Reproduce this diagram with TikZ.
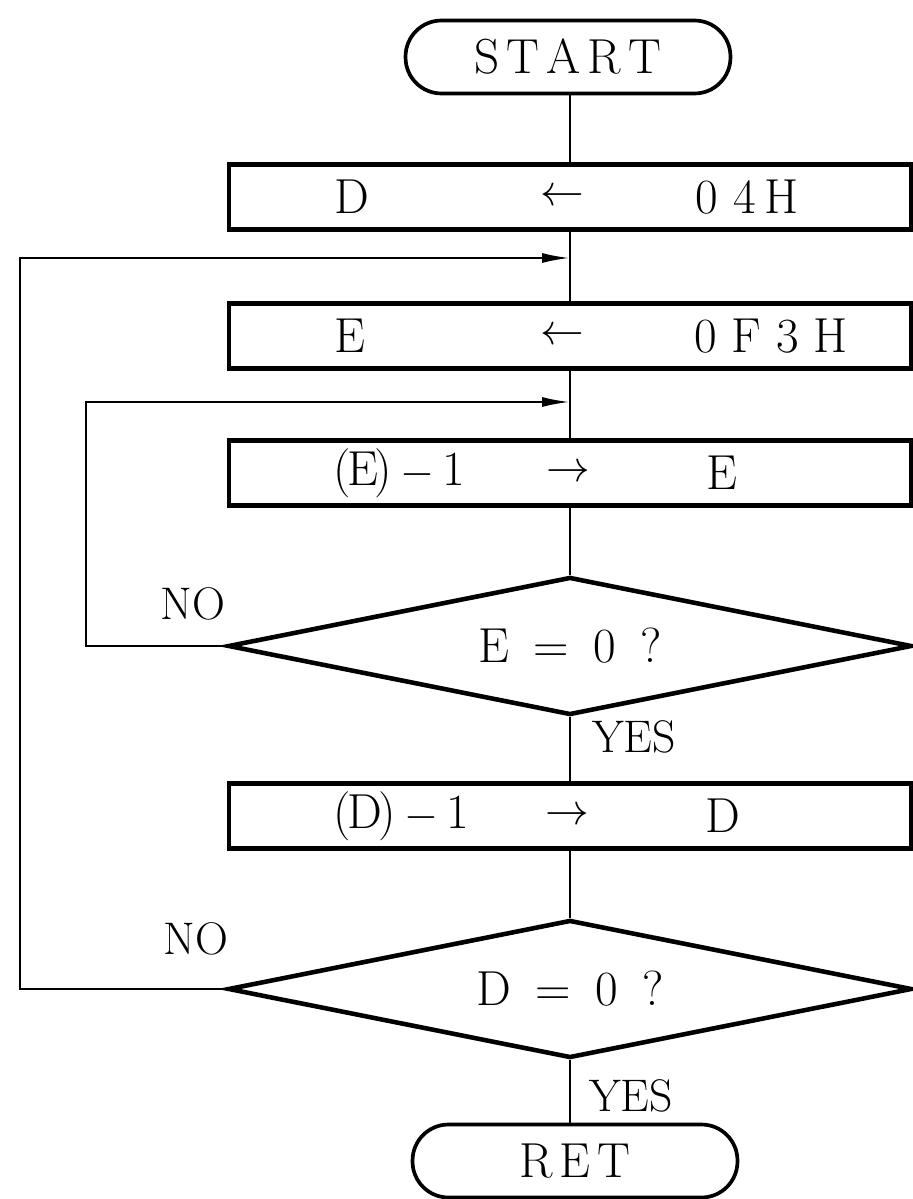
\documentclass[tikz,border=0pt]{standalone}
\usepackage{tikz}
\usetikzlibrary{shapes.geometric, arrows.meta, positioning}
\tikzset{
	proc/.style ={rectangle, draw=black, line width=2.3pt, minimum width=13.64cm, minimum height=1.3cm, inner sep=0pt},
	decis/.style={diamond, draw=black, line width=2.6pt, minimum width=13.68cm, minimum height=2.76cm, inner sep=0pt, aspect=5},
	term/.style ={rectangle, rounded corners=0.72cm, draw=black, line width=2.1pt, minimum width=6.5cm, minimum height=1.46cm, inner sep=0pt},
	txt/.style  ={inner sep=0pt, font=\fontsize{28}{30}\selectfont},
	lbl/.style  ={inner sep=0pt, font=\fontsize{26}{28}\selectfont},
	conn/.style ={line width=1.3pt},
	flow/.style ={line width=1.3pt, -{Latex[length=5.6mm, width=2mm]}},
}
\begin{document}
\begin{tikzpicture}[x=0.02cm, y=-0.02cm]
	\useasboundingbox (0,0) rectangle (912,1199);
	% main column
	\node[term] (st) at (568,57) {\fontsize{28}{30}\selectfont S\kern4pt T\kern4pt A\kern4pt R\kern4pt T};
	\node[proc] (b1) at (570,197) {};
	\node[proc] (b2) at (570,336) {};
	\node[proc] (b3) at (570,473) {};
	\node[decis] (d1) at (570,646) {};
	\node[proc] (b4) at (570,816) {};
	\node[decis] (d2) at (570,989) {};
	\node[term] (ret) at (575,1161) {\fontsize{28}{30}\selectfont R\kern4pt E\kern4pt T};
	% box contents
	\node[txt] (b1a) at (352,197) {D};
	\node[txt] (b1b) at (562,197) {$\leftarrow$};
	\node[txt] (b1c) at (747,197) {0~4\,H};
	\node[txt] (b2a) at (350,336) {E};
	\node[txt] (b2b) at (562,336) {$\leftarrow$};
	\node[txt] (b2c) at (771,336) {0 F 3 H};
	\node[txt] (b3a) at (399,473) {(\kern-2pt E\kern-2pt)\,$-$\,1};
	\node[txt] (b3b) at (568,473) {$\rightarrow$};
	\node[txt] (b3c) at (722,473) {E};
	\node[txt] (d1a) at (570,646) {E\enspace=\enspace0\enspace?};
	\node[txt] (b4a) at (401,816) {(\kern-2pt D\kern-2pt)\,$-$\,1};
	\node[txt] (b4b) at (567,816) {$\rightarrow$};
	\node[txt] (b4c) at (723,816) {D};
	\node[txt] (d2a) at (570,989) {D\enspace=\enspace0\enspace?};
	% branch labels
	\node[lbl] (no1) at (193,604) {NO};
	\node[lbl] (yes1) at (634,737) {YES};
	\node[lbl] (no2) at (196,939) {NO};
	\node[lbl] (yes2) at (631,1096) {YES};
	% joints on the column
	\coordinate (j1) at (570,258);
	\coordinate (j2) at (570,402);
	\draw[conn] (st.south -| b1.north) -- (b1.north);
	\draw[conn] (b1.south) -- (b2.north);
	\draw[conn] (b2.south) -- (b3.north);
	\draw[conn] (b3.south) -- (d1.north);
	\draw[conn] (d1.south) -- (b4.north);
	\draw[conn] (b4.south) -- (d2.north);
	\draw[conn] (d2.south) -- (ret.north -| d2.south);
	% loops back
	\draw[flow] (d1.west) -- ++(-140,0) |- (j2);
	\draw[flow] (d2.west) -- ++(-206,0) |- (j1);
\end{tikzpicture}
\end{document}
